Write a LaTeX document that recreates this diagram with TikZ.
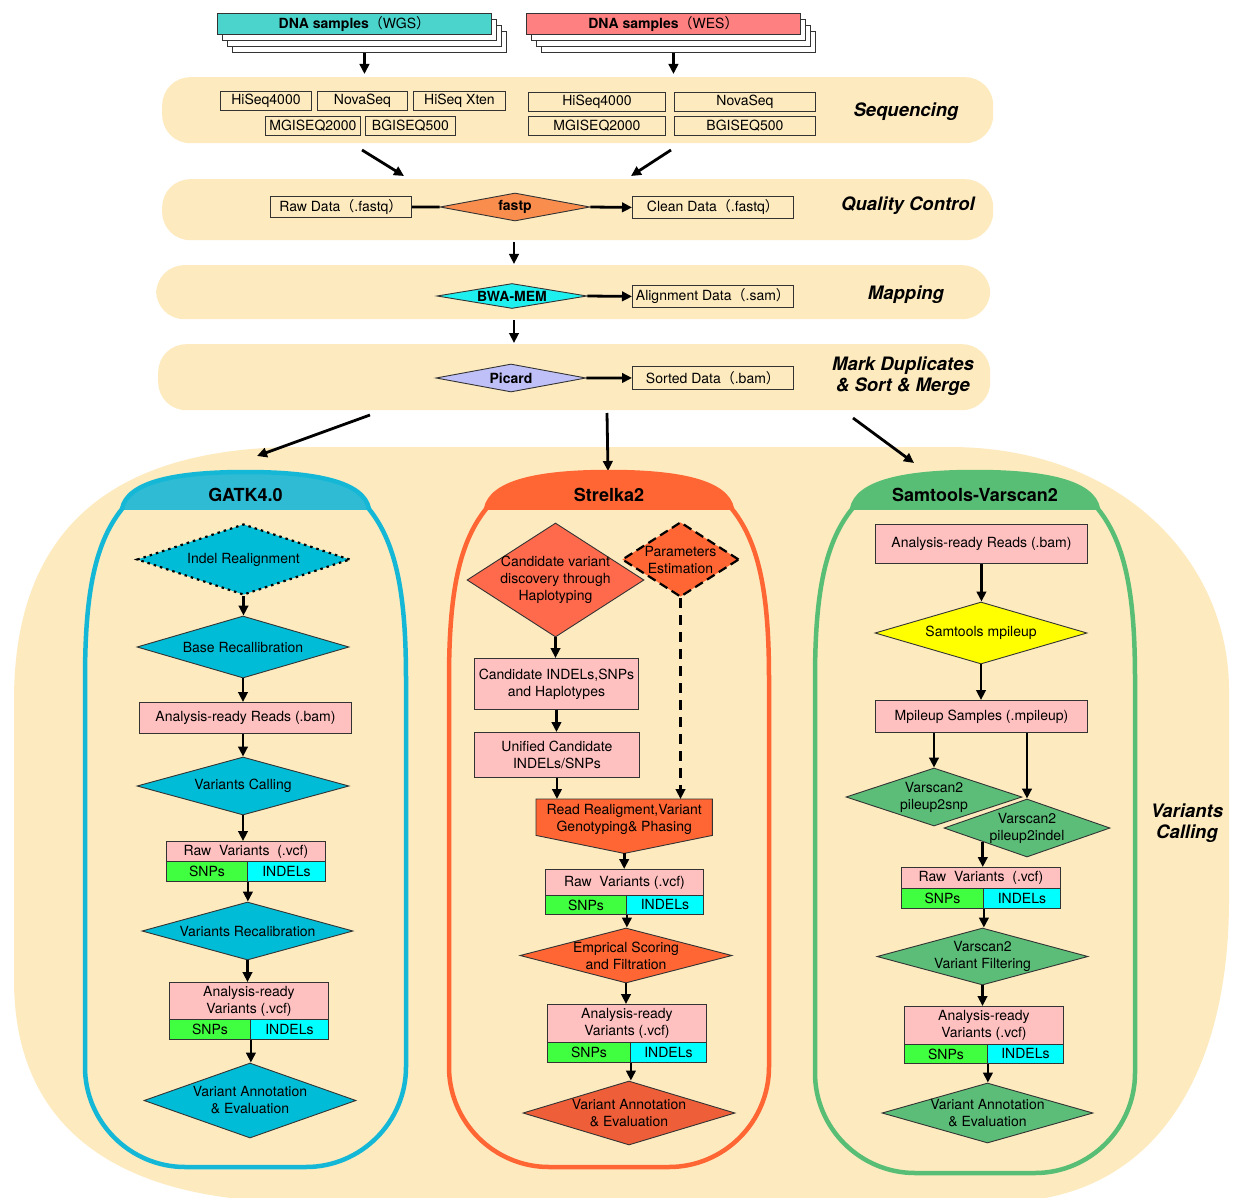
\documentclass[tikz,border=0pt]{standalone}
\usepackage{fontspec}
\setmainfont{TeX Gyre Heros}
\newfontfamily\cjk{Noto Sans CJK SC}
\usetikzlibrary{shapes.geometric,arrows.meta,calc}
\definecolor{band}{RGB}{253,234,191}
\definecolor{wgsc}{RGB}{75,212,204}
\definecolor{wesc}{RGB}{255,128,128}
\definecolor{fastpc}{RGB}{249,141,78}
\definecolor{bwac}{RGB}{30,240,240}
\definecolor{picardc}{RGB}{192,192,248}
\definecolor{gatkline}{RGB}{20,184,214}
\definecolor{gatkhead}{RGB}{48,187,212}
\definecolor{gatkdia}{RGB}{0,188,214}
\definecolor{strline}{RGB}{255,102,51}
\definecolor{strdia}{RGB}{255,106,77}
\definecolor{strdia2}{RGB}{238,94,56}
\definecolor{samline}{RGB}{88,190,117}
\definecolor{samdia}{RGB}{91,189,120}
\definecolor{pinkc}{RGB}{255,192,192}
\definecolor{snpc}{RGB}{64,255,64}
\definecolor{indelc}{RGB}{0,255,255}
\definecolor{yellowc}{RGB}{255,255,0}
\newcommand\fwl{{\cjk （}}
\newcommand\fwr{{\cjk ）}}
\tikzset{
  every node/.style={font=\fontsize{14}{17}\selectfont},
  box/.style={draw=black!80, line width=0.9pt, inner sep=0pt, align=center, anchor=north west},
  pinkbox/.style={box, fill=pinkc},
  snpbox/.style={box, fill=snpc},
  indelbox/.style={box, fill=indelc},
  dia/.style={diamond, draw=black!80, line width=0.9pt, inner sep=0pt},
  arr/.style={line width=2.8pt, -{Triangle[length=10pt,width=9.5pt]}},
  titletext/.style={font=\fontsize{18.5}{21.5}\selectfont\bfseries\itshape, align=center},
  headtext/.style={font=\fontsize{18}{21}\selectfont\bfseries},
  bandnode/.style={fill=band, rounded corners=28pt, inner sep=0pt, anchor=north west},
}
\newcommand\drawpanel[7]{%
  \begin{scope}
    \clip (#1-10,460) rectangle (#2+10,509);
    \fill[#4] (#1,680) .. controls (#1,600) and (#1+8,545) .. (#1+37,509) .. controls (#1+42,482) and (#1+90,472) .. ({(#1+#2)/2},472) .. controls (#2-90,472) and (#2-42,482) .. (#2-37,509) .. controls (#2-8,545) and (#2,600) .. (#2,680) -- (#2,#3-100) .. controls (#2,#3-45) and (#2-45,#3) .. (#2-100,#3) -- (#1+100,#3) .. controls (#1+45,#3) and (#1,#3-45) .. (#1,#3-100) -- cycle;
  \end{scope}
  \draw[#5, line width=4.5pt] (#1,680) .. controls (#1,600) and (#1+8,545) .. (#1+37,509) .. controls (#1+42,482) and (#1+90,472) .. ({(#1+#2)/2},472) .. controls (#2-90,472) and (#2-42,482) .. (#2-37,509) .. controls (#2-8,545) and (#2,600) .. (#2,680) -- (#2,#3-100) .. controls (#2,#3-45) and (#2-45,#3) .. (#2-100,#3) -- (#1+100,#3) .. controls (#1+45,#3) and (#1,#3-45) .. (#1,#3-100) -- cycle;
  \node[headtext] (#6) at ({(#1+#2)/2},495) {#7};
}
\begin{document}
\begin{tikzpicture}[x=1pt,y=-1pt]
\clip (0,0) rectangle (1236,1198);
% big variants calling band
\fill[band] (14,700) .. controls (14,540) and (100,447) .. (300,447) -- (950,447) .. controls (1120,447) and (1229,560) .. (1229,690) -- (1229,900) .. controls (1229,1080) and (1150,1202) .. (1000,1202) -- (300,1202) .. controls (120,1202) and (14,1130) .. (14,980) -- cycle;
% horizontal bands
\node[bandnode, minimum width=831pt, minimum height=66pt] (seqband) at (162,77) {};
\node[bandnode, minimum width=831pt, minimum height=61pt] (qcband) at (162,179) {};
\node[bandnode, minimum width=834pt, minimum height=54pt] (mapband) at (156,265) {};
\node[bandnode, minimum width=832pt, minimum height=66pt] (markband) at (158,344) {};
% titles
\node[titletext] (tseq) at (906,112) {Sequencing};
\node[titletext] (tqc) at (908,206) {Quality Control};
\node[titletext] (tmap) at (906,295) {Mapping};
\node[titletext] (tmark) at (903,376) {Mark Duplicates\\\& Sort \& Merge};
\node[titletext] (tvc) at (1187,823) {Variants\\Calling};
% sample stacks
\foreach \i in {3,2,1} {
  \node[box, fill=white, minimum width=274pt, minimum height=21pt] (wgs\i) at (217+5*\i,13+6*\i) {};
  \node[box, fill=white, minimum width=274pt, minimum height=21pt] (wes\i) at (526+5*\i,13+6*\i) {};
}
\node[box, fill=wgsc, minimum width=274pt, minimum height=21pt] (wgs) at (217,13) {\textbf{DNA samples}\fwl WGS\fwr};
\node[box, fill=wesc, minimum width=274pt, minimum height=21pt] (wes) at (526,13) {\textbf{DNA samples}\fwl WES\fwr};
\draw[arr, shorten >=3pt] (wgs2.south |- wgs3.south) -- (wgs2.south |- seqband.north);
\draw[arr, shorten >=3pt] (wes2.south |- wes3.south) -- (wes2.south |- seqband.north);
% sequencers
\node[box, minimum width=91pt, minimum height=19pt] (hs1) at (220,91) {HiSeq4000};
\node[box, minimum width=90pt, minimum height=19pt] (ns1) at (317,91) {NovaSeq};
\node[box, minimum width=92pt, minimum height=19pt] (hx1) at (413,91) {HiSeq Xten};
\node[box, minimum width=95pt, minimum height=19pt] (mg1) at (265,116) {MGISEQ2000};
\node[box, minimum width=90pt, minimum height=19pt] (bg1) at (365,116) {BGISEQ500};
\node[box, minimum width=137pt, minimum height=19pt] (hs2) at (528,92) {HiSeq4000};
\node[box, minimum width=141pt, minimum height=19pt] (ns2) at (674,92) {NovaSeq};
\node[box, minimum width=137pt, minimum height=19pt] (mg2) at (528,116) {MGISEQ2000};
\node[box, minimum width=141pt, minimum height=19pt] (bg2) at (674,116) {BGISEQ500};
\coordinate (d1s) at (362,150); \coordinate (d1e) at (404,176);
\coordinate (d2s) at (671,150); \coordinate (d2e) at (631,176);
\draw[arr] (d1s) -- (d1e);
\draw[arr] (d2s) -- (d2e);
% QC
\node[box, minimum width=141pt, minimum height=21pt] (raw) at (270,196) {Raw Data\fwl.fastq\fwr};
\node[dia, fill=fastpc, minimum width=150pt, minimum height=28pt, label={center:\textbf{fastp}}] (fastp) at (515,207) {};
\node[box, minimum width=161pt, minimum height=22pt] (clean) at (632,196) {Clean Data\fwl.fastq\fwr};
\draw[line width=2.8pt] (raw.east) -- (fastp.west);
\draw[arr] (fastp.east) -- (clean.west);
\coordinate (q1) at (514,242); \coordinate (q2) at (514,264);
\draw[arr] (q1) -- (q2);
% Mapping
\node[dia, fill=bwac, minimum width=150pt, minimum height=25pt, label={center:\textbf{BWA-MEM}}] (bwa) at (512,296) {};
\node[box, minimum width=161pt, minimum height=22pt] (align) at (632,285) {Alignment Data\fwl.sam\fwr};
\draw[arr] (bwa.east) -- (align.west);
\coordinate (m1) at (514,320); \coordinate (m2) at (514,343);
\draw[arr] (m1) -- (m2);
% Mark duplicates
\node[dia, fill=picardc, minimum width=150pt, minimum height=28pt, label={center:\textbf{Picard}}] (picard) at (511,378) {};
\node[box, minimum width=161pt, minimum height=23pt] (sorted) at (632,366) {Sorted Data\fwl.bam\fwr};
\draw[arr] (picard.east) -- (sorted.west);
\coordinate (o1s) at (370,415); \coordinate (o1e) at (257,456);
\coordinate (o2s) at (607,413); \coordinate (o2e) at (608,471);
\coordinate (o3s) at (853,418); \coordinate (o3e) at (914,463);
\draw[arr] (o1s) -- (o1e);
\draw[arr] (o2s) -- (o2e);
\draw[arr] (o3s) -- (o3e);
% panels
\drawpanel{85}{406}{1167}{gatkhead}{gatkline}{gatkt}{GATK4.0}
\drawpanel{449}{769}{1167}{strline}{strline}{strt}{Strelka2}
\drawpanel{815}{1135}{1173}{samline}{samline}{samt}{Samtools-Varscan2}
% GATK
\node[dia, fill=gatkdia, draw=black, line width=2.2pt, dash pattern=on 2.5pt off 4pt, minimum width=213pt, minimum height=71pt, label={center:Indel Realignment}] (ir) at (243.5,559.5) {};
\node[dia, fill=gatkdia, minimum width=212pt, minimum height=62pt, label={center:Base Recallibration}] (br) at (243,647) {};
\node[pinkbox, minimum width=212pt, minimum height=31pt] (arb) at (139,702) {Analysis-ready Reads (.bam)};
\node[dia, fill=gatkdia, minimum width=212pt, minimum height=58pt, label={center:Variants Calling}] (vc) at (243,786) {};
\node[pinkbox, minimum width=159pt, minimum height=20pt] (rvg) at (166,841) {Raw\ \ Variants\ \ (.vcf)};
\node[snpbox, minimum width=81pt, minimum height=20pt] (snpg) at (166,861) {SNPs};
\node[indelbox, minimum width=78pt, minimum height=20pt] (indg) at (247,861) {INDELs};
\node[dia, fill=gatkdia, minimum width=211pt, minimum height=58pt, label={center:Variants Recalibration}] (vr) at (247.5,931) {};
\node[pinkbox, minimum width=159pt, minimum height=37pt] (arvg) at (169,982) {Analysis-ready\\Variants (.vcf)};
\node[snpbox, minimum width=81pt, minimum height=20pt] (snpg2) at (169,1019) {SNPs};
\node[indelbox, minimum width=78pt, minimum height=20pt] (indg2) at (250,1019) {INDELs};
\node[dia, fill=gatkdia, minimum width=212pt, minimum height=75pt, label={[align=center]center:Variant Annotation\\\& Evaluation}] (vag) at (250,1100.5) {};
\draw[arr] (ir.south) -- (ir.south |- br.north);
\draw[arr] (br.south) -- (br.south |- arb.north);
\draw[arr] (vc.north |- arb.south) -- (vc.north);
\draw[arr] (vc.south) -- (vc.south |- rvg.north);
\draw[arr] (snpg.south east) -- (snpg.south east |- vr.north);
\draw[arr] (vr.south) -- (vr.south |- arvg.north);
\draw[arr] (snpg2.south east) -- (snpg2.south east |- vag.north);
% Strelka2
\node[dia, fill=strdia, minimum width=177pt, minimum height=114pt, label={[align=center]center:Candidate variant\\discovery through\\Haplotyping}] (cvd) at (555.5,580) {};
\node[dia, fill=strline, draw=black, line width=2.2pt, dash pattern=on 9pt off 5pt, minimum width=117pt, minimum height=75pt, label={[align=center]center:Parameters\\Estimation}] (pe) at (680.5,559.5) {};
\node[pinkbox, minimum width=164pt, minimum height=51pt] (ci) at (474,658) {Candidate INDELs,SNPs\\and Haplotypes};
\node[pinkbox, minimum width=165pt, minimum height=45pt] (uc) at (474,732) {Unified Candidate\\INDELs/SNPs};
\node[anchor=north west, inner sep=0pt, minimum width=176pt, minimum height=36pt] (rr) at (536,799) {};
\coordinate (rrtip) at ($(rr.south)+(0,18)$);
\filldraw[fill=strline, draw=black!80, line width=0.9pt] (rr.north west) -- (rr.north east) -- (rr.south east) -- (rrtip) -- (rr.south west) -- cycle;
\node[align=center] (rrtext) at ($(rr.center)+(0,2)$) {Read Realigment,Variant\\Genotyping\& Phasing};
\node[pinkbox, minimum width=158pt, minimum height=26pt] (rvs) at (545,869) {Raw\ \ Variants (.vcf)};
\node[snpbox, minimum width=81pt, minimum height=19pt] (snps1) at (545,895) {SNPs};
\node[indelbox, minimum width=77pt, minimum height=19pt] (inds1) at (626,895) {INDELs};
\node[dia, fill=strline, minimum width=212pt, minimum height=55pt, label={[align=center]center:Emprical Scoring\\and Filtration}] (esf) at (626,955.5) {};
\node[pinkbox, minimum width=159pt, minimum height=38pt] (arvs) at (547,1004) {Analysis-ready\\Variants (.vcf)};
\node[snpbox, minimum width=83pt, minimum height=20pt] (snps2) at (547,1042) {SNPs};
\node[indelbox, minimum width=76pt, minimum height=20pt] (inds2) at (630,1042) {INDELs};
\node[dia, fill=strdia2, minimum width=212pt, minimum height=64pt, label={[align=center]center:Variant Annotation\\\& Evaluation}] (vas) at (629,1113) {};
\draw[arr] (cvd.south) -- (cvd.south |- ci.north);
\draw[arr] (ci.south) -- (ci.south |- uc.north);
\draw[arr] (uc.south) -- (uc.south |- rr.north);
\draw[arr, dash pattern=on 10pt off 7pt] (pe.south) -- (pe.south |- rr.north);
\draw[arr] (rrtip) -- (rrtip |- rvs.north);
\draw[arr] (snps1.south east) -- (snps1.south east |- esf.north);
\draw[arr] (esf.south) -- (esf.south |- arvs.north);
\draw[arr] (snps2.south east) -- (snps2.south east |- vas.north);
% Samtools-Varscan2
\node[pinkbox, minimum width=212pt, minimum height=39pt] (sar) at (875,524) {Analysis-ready Reads (.bam)};
\node[dia, fill=yellowc, minimum width=212pt, minimum height=62pt, label={center:Samtools mpileup}] (smp) at (981,633) {};
\node[pinkbox, minimum width=212pt, minimum height=32pt] (mps) at (875,700) {Mpileup Samples (.mpileup)};
\node[dia, fill=samdia, minimum width=176pt, minimum height=58pt, label={[align=center]center:Varscan2\\pileup2snp}] (p2s) at (934,797) {};
\node[dia, fill=samdia, minimum width=166pt, minimum height=58pt, label={[align=center]center:Varscan2\\pileup2indel}] (p2i) at (1027,828) {};
\node[pinkbox, minimum width=159pt, minimum height=21pt] (rvm) at (901,867) {Raw\ \ Variants\ \ (.vcf)};
\node[snpbox, minimum width=82pt, minimum height=20pt] (snpm1) at (901,888) {SNPs};
\node[indelbox, minimum width=77pt, minimum height=20pt] (indm1) at (983,888) {INDELs};
\node[dia, fill=samdia, minimum width=211pt, minimum height=57pt, label={[align=center]center:Varscan2\\Variant Filtering}] (vf) at (982.5,956.5) {};
\node[pinkbox, minimum width=159pt, minimum height=38pt] (arvm) at (904,1006) {Analysis-ready\\Variants (.vcf)};
\node[snpbox, minimum width=83pt, minimum height=19pt] (snpm2) at (904,1044) {SNPs};
\node[indelbox, minimum width=76pt, minimum height=19pt] (indm2) at (987,1044) {INDELs};
\node[dia, fill=samdia, minimum width=211pt, minimum height=60pt, label={[align=center]center:Variant Annotation\\\& Evaluation}] (vam) at (987.5,1113) {};
\draw[arr] (sar.south) -- (sar.south |- smp.north);
\draw[arr] (smp.south) -- (smp.south |- mps.north);
\draw[arr] (mps.south -| p2s.north) -- (p2s.north);
\draw[arr] (mps.south -| p2i.north) -- (p2i.north);
\coordinate (p2iout) at ($(p2i.west)!0.47!(p2i.south)$);
\draw[arr] (p2iout) -- (p2iout |- rvm.north);
\draw[arr] (snpm1.south east) -- (snpm1.south east |- vf.north);
\draw[arr] (vf.south) -- (vf.south |- arvm.north);
\draw[arr] (snpm2.south east) -- (snpm2.south east |- vam.north);
\end{tikzpicture}
\end{document}
